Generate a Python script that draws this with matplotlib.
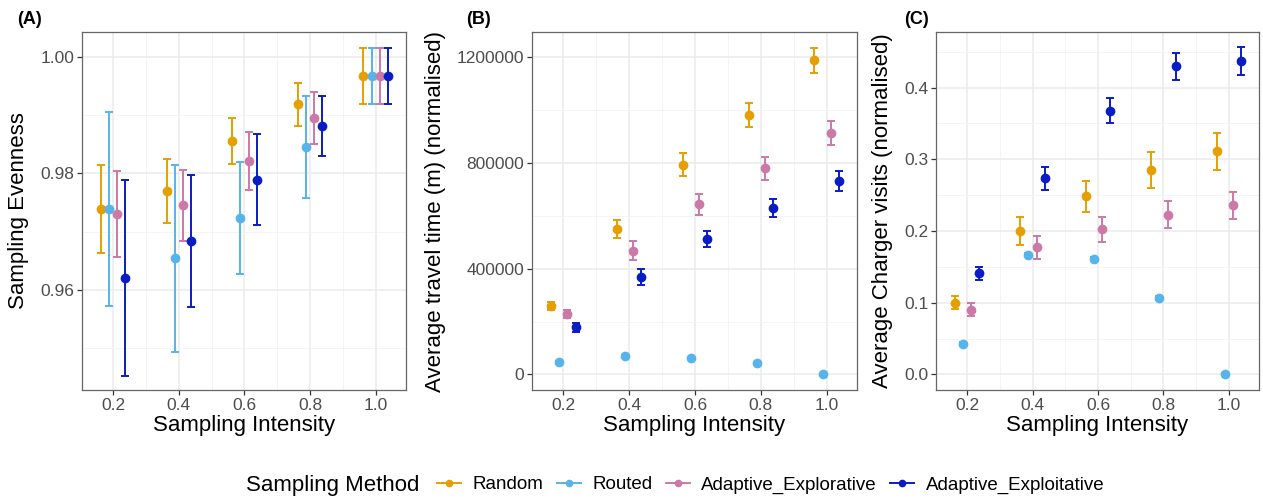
import matplotlib.pyplot as plt
import numpy as np
from matplotlib.lines import Line2D
from matplotlib.ticker import MultipleLocator

plt.rcParams['font.family'] = ['Liberation Sans', 'DejaVu Sans']

intensity = [0.2, 0.4, 0.6, 0.8, 1.0]
methods = ["Random", "Routed", "Adaptive_Explorative", "Adaptive_Exploitative"]
colours = ["#E69F00", "#56B4E9", "#CC79A7", "#0A1CC4"]
dodge = [-0.0375, -0.0125, 0.0125, 0.0375]

# (A) sampling evenness: mean, lower, upper
even_mean = [[0.9739, 0.9769, 0.9856, 0.9919, 0.9968],
             [0.9739, 0.9654, 0.9723, 0.9845, 0.9968],
             [0.9731, 0.9745, 0.9822, 0.9895, 0.9968],
             [0.9620, 0.9684, 0.9789, 0.9881, 0.9968]]
even_lo = [[0.9663, 0.9715, 0.9817, 0.9882, 0.9919],
           [0.9572, 0.9494, 0.9628, 0.9757, 0.9919],
           [0.9656, 0.9684, 0.9772, 0.9850, 0.9919],
           [0.9452, 0.9571, 0.9711, 0.9830, 0.9919]]
even_hi = [[0.9814, 0.9824, 0.9895, 0.9956, 1.0016],
           [0.9906, 0.9814, 0.9819, 0.9933, 1.0016],
           [0.9804, 0.9806, 0.9872, 0.9940, 1.0016],
           [0.9788, 0.9797, 0.9867, 0.9933, 1.0016]]

# (B) average travel time (normalised)
time_mean = [[259700, 550900, 794200, 983300, 1188800],
             [46600, 69300, 61800, 41600, 0],
             [228200, 467700, 644200, 781600, 914000],
             [177800, 368100, 510600, 630300, 732500]]
time_lo = [[244600, 516900, 750100, 936700, 1140900],
           [42000, 64500, 57500, 37500, 0],
           [213000, 432400, 602600, 737500, 868600],
           [161400, 339100, 480300, 595000, 694600]]
time_hi = [[274800, 585000, 838300, 1028700, 1236700],
           [51000, 74000, 66000, 46000, 0],
           [243300, 503000, 684500, 824500, 960600],
           [194100, 397100, 542100, 664400, 770300]]

# (C) average charger visits (normalised)
visit_mean = [[0.0999, 0.2002, 0.2485, 0.2848, 0.3113],
              [0.0423, 0.1672, 0.1612, 0.1069, 0.0],
              [0.0901, 0.1775, 0.2026, 0.2230, 0.2365],
              [0.1408, 0.2736, 0.3679, 0.4297, 0.4372]]
visit_lo = [[0.0906, 0.1803, 0.2262, 0.2602, 0.2852],
            [0.0395, 0.1645, 0.1585, 0.1042, 0.0],
            [0.0813, 0.1607, 0.1849, 0.2039, 0.2174],
            [0.1319, 0.2574, 0.3503, 0.4111, 0.4181]]
visit_hi = [[0.1087, 0.2193, 0.2704, 0.3099, 0.3368],
            [0.0451, 0.1699, 0.1639, 0.1096, 0.0],
            [0.0990, 0.1937, 0.2197, 0.2416, 0.2546],
            [0.1496, 0.2894, 0.3861, 0.4483, 0.4562]]

fig = plt.figure(figsize=(12.63, 5), dpi=100)
W, H = 1263, 500


def make_ax(left, right, top=32, bottom=390):
    return fig.add_axes([left / W, 1 - bottom / H, (right - left) / W, (bottom - top) / H])


def draw(ax, mean, lo, hi, ylim, major, minor, ylabel, label, label_x, ylabel_x, fmt):
    for i in range(4):
        x = np.array(intensity) + dodge[i]
        m = np.array(mean[i])
        err = [m - np.array(lo[i]), np.array(hi[i]) - m]
        ax.errorbar(x, m, yerr=err, fmt='o', color=colours[i], markersize=6,
                    elinewidth=1.4, capsize=3, capthick=1.4, zorder=3)
    ax.set_xlim(0.105, 1.092)
    ax.set_ylim(*ylim)
    ax.set_xticks(intensity)
    ax.set_xticklabels(["0.2", "0.4", "0.6", "0.8", "1.0"])
    ax.xaxis.set_minor_locator(MultipleLocator(0.1))
    ax.yaxis.set_major_locator(MultipleLocator(major))
    ax.yaxis.set_minor_locator(MultipleLocator(minor))
    ax.yaxis.set_major_formatter(fmt)
    ax.grid(which='major', color='#EBEBEB', linewidth=1.1, zorder=0)
    ax.grid(which='minor', color='#F2F2F2', linewidth=0.6, zorder=0)
    ax.set_axisbelow(True)
    ax.tick_params(which='major', direction='out', length=3.5, width=0.9, color='#333333',
                   labelsize=12.5, labelcolor='#4D4D4D', pad=2)
    ax.tick_params(which='minor', length=0)
    for s in ax.spines.values():
        s.set_color('#666666')
        s.set_linewidth(0.9)
    ax.set_xlabel("Sampling Intensity", fontsize=16, labelpad=2)
    ax.set_ylabel(ylabel, fontsize=16)
    pos = ax.get_position()
    ax.yaxis.set_label_coords((ylabel_x - pos.x0 * W) / (pos.width * W), 0.5)
    fig.text(label_x / W, 1 - 20 / H, label, fontsize=13, fontweight='bold', va='center')


axA = make_ax(82, 406)
draw(axA, even_mean, even_lo, even_hi, (0.9428, 1.0043), 0.02, 0.01,
     "Sampling Evenness", "(A)", 17, 29, plt.FuncFormatter(lambda v, p: f"{v:.2f}"))

axB = make_ax(532, 857)
draw(axB, time_mean, time_lo, time_hi, (-59200, 1295900), 400000, 200000,
     "Average travel time (m) (normalised)", "(B)", 466, 446,
     plt.FuncFormatter(lambda v, p: f"{int(round(v))}"))

axC = make_ax(936, 1259)
draw(axC, visit_mean, visit_lo, visit_hi, (-0.0218, 0.4776), 0.1, 0.05,
     "Average Charger visits (normalised)", "(C)", 904, 893,
     plt.FuncFormatter(lambda v, p: f"{v:.1f}"))

# legend along the bottom
fig.text(246 / W, 1 - 485 / H, "Sampling Method", fontsize=16, va='center', ha='left')
handles = [Line2D([0], [0], color=c, marker='o', markersize=4.5, linewidth=1.4) for c in colours]
fig.legend(handles, methods, loc='center left', bbox_to_anchor=(437 / W, 1 - 485 / H),
           ncol=4, frameon=False, fontsize=13.5, handlelength=1.3, handletextpad=0.6,
           columnspacing=0.7, borderaxespad=0, borderpad=0)

fig.savefig("out.png", dpi=100)
